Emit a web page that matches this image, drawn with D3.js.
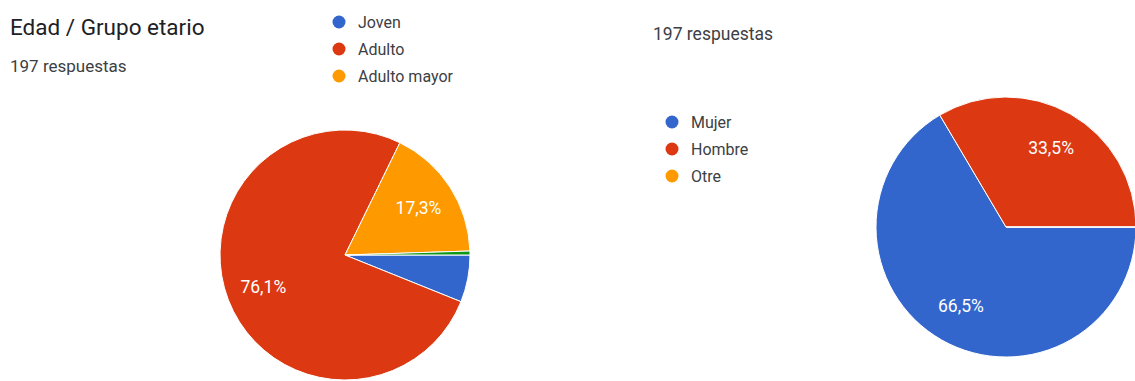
<!DOCTYPE html>
<html>
<head>
<meta charset="utf-8">
<script src="https://cdn.jsdelivr.net/npm/d3@7"></script>
<style>
  body { margin: 0; background: #fff; overflow: hidden; }
  text { font-family: Roboto, "Noto Sans", sans-serif; }
</style>
</head>
<body>
<div class="container"></div>
<script>
let width = 1135
let height = 381

// pie 1 - Edad / Grupo etario (counts out of 197)
const edadLabels = ['Joven', 'Adulto', 'Adulto mayor', '']
const edadValues = [12, 150, 34, 1]
const edadColours = ['#3366cc', '#dc3912', '#ff9900', '#109618']

// pie 2 - genero
const generoLabels = ['Mujer', 'Hombre', 'Otre']
const generoValues = [131, 66, 0]
const generoColours = ['#3366cc', '#dc3912', '#ff9900']

const title = 'Edad / Grupo etario'
const respuestas = '197 respuestas'

let svg = d3.select('.container')
    .append('svg')
    .attr('width', width)
    .attr('height', height)

let fmt = (v) => d3.format('.1f')(v).replace('.', ',') + '%'

function drawPie(values, colours, cx, cy, r) {
    let total = d3.sum(values)
    let pie = d3.pie()
        .sort(null)
        .startAngle(Math.PI / 2)
        .endAngle(Math.PI / 2 + Math.PI * 2)
    let arc = d3.arc().innerRadius(0).outerRadius(r)
    let labelArc = d3.arc().innerRadius(r * 0.7).outerRadius(r * 0.7)

    let g = svg.append('g')
        .attr('transform', `translate(${cx},${cy})`)

    let arcs = pie(values)

    g.selectAll('path')
        .data(arcs)
        .enter()
        .append('path')
        .attr('d', arc)
        .attr('fill', (d, i) => colours[i])
        .attr('stroke', '#fff')
        .attr('stroke-width', 1)

    // only slices big enough get a label
    g.selectAll('text')
        .data(arcs.filter(d => d.value / total > 0.1))
        .enter()
        .append('text')
        .attr('transform', d => `translate(${labelArc.centroid(d)})`)
        .attr('text-anchor', 'middle')
        .attr('dy', '0.35em')
        .attr('fill', '#fff')
        .attr('font-size', 17.5)
        .text(d => fmt(d.value / total * 100))
}

function drawLegend(labels, colours, x, y, step) {
    let items = labels.map((l, i) => ({ label: l, colour: colours[i] })).filter(d => d.label !== '')
    let g = svg.append('g')
    g.selectAll('circle')
        .data(items)
        .enter()
        .append('circle')
        .attr('cx', x)
        .attr('cy', (d, i) => y + i * step)
        .attr('r', 6.5)
        .attr('fill', d => d.colour)
    g.selectAll('text')
        .data(items)
        .enter()
        .append('text')
        .attr('x', x + 19)
        .attr('y', (d, i) => y + i * step)
        .attr('dy', '0.35em')
        .attr('font-size', 16)
        .attr('fill', '#3c4043')
        .text(d => d.label)
}

svg.append('text')
    .attr('x', 10)
    .attr('y', 35)
    .attr('font-size', 22.5)
    .attr('fill', '#202124')
    .text(title)

svg.append('text')
    .attr('x', 10)
    .attr('y', 72)
    .attr('font-size', 17)
    .attr('fill', '#3c4043')
    .text(respuestas)

svg.append('text')
    .attr('x', 653)
    .attr('y', 40)
    .attr('font-size', 17.5)
    .attr('fill', '#3c4043')
    .text(respuestas)

drawLegend(edadLabels, edadColours, 339, 22, 27)
drawLegend(generoLabels, generoColours, 672, 122, 27)

drawPie(edadValues, edadColours, 345, 255, 125)
drawPie(generoValues, generoColours, 1006, 227, 130)
</script>
</body>
</html>
